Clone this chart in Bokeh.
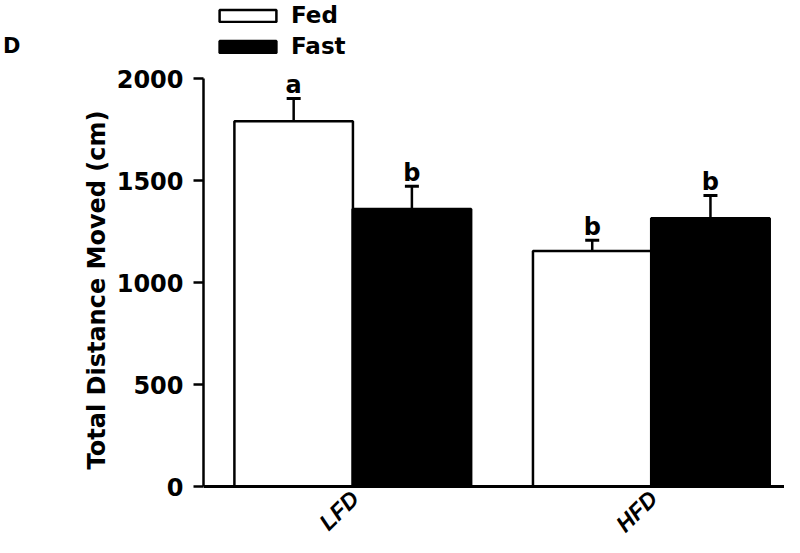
import math
from bokeh.plotting import figure
from bokeh.models import (ColumnDataSource, Range1d, FixedTicker, Whisker, TeeHead,
                          Legend, LegendItem, Span, LinearAxis)
from bokeh.core.properties import value
from bokeh.embed import file_html
from bokeh.resources import INLINE

# ---- data ----
categories = ["LFD", "HFD"]
group_pos = [1, 2]
series = ["Fed", "Fast"]
fed = [1790, 1155]
fed_err = [112, 52]
fast = [1360, 1315]
fast_err = [112, 112]
fed_letters = ["a", "b"]
fast_letters = ["b", "b"]
y_ticks = [0, 500, 1000, 1500, 2000]
y_title = "Total Distance Moved (cm)"
panel_tag = "D"

OFF = 0.198
BW = 0.397
FONT = "DejaVu Sans"

# layout (pixels): value 0 at y=486, 2000 at y=78 -> 0.204 px per unit
PX = 0.204
ZERO_Y = 486
H = 537
y_lo = -(H - ZERO_Y) / PX
y_hi = ZERO_Y / PX
title_pos = int(round((ZERO_Y - 246) / PX))   # puts the rotated axis title centred near y=291
tag_pos = int(round((ZERO_Y - 46) / PX))      # vertical centre of panel tag

p = figure(width=784, height=H, x_range=Range1d(0.5, 2.446), y_range=Range1d(y_lo, y_hi),
           output_backend="svg", toolbar_location=None, x_axis_location=None,
           min_border_left=203, min_border_right=0, min_border_top=0, min_border_bottom=0)
p.outline_line_color = None
p.xgrid.visible = False
p.ygrid.visible = False
p.background_fill_color = "white"
p.border_fill_color = "white"

fed_src = ColumnDataSource(dict(x=[g - OFF for g in group_pos], top=fed,
                                upper=[v + e for v, e in zip(fed, fed_err)],
                                letter=fed_letters))
fast_src = ColumnDataSource(dict(x=[g + OFF for g in group_pos], top=fast,
                                 upper=[v + e for v, e in zip(fast, fast_err)],
                                 letter=fast_letters))

for src in (fed_src, fast_src):
    w = Whisker(base="x", lower="top", upper="upper", source=src, dimension="height",
                line_width=2.5, line_color="black", lower_head=None,
                upper_head=TeeHead(size=14, line_width=3, line_color="black"))
    p.add_layout(w)

r_fed = p.vbar(x="x", top="top", width=BW, bottom=0, source=fed_src,
               fill_color="white", line_color="black", line_width=2.5)
r_fast = p.vbar(x="x", top="top", width=BW, bottom=0, source=fast_src,
                fill_color="black", line_color="black", line_width=2.5)

# x axis baseline at y = 0
p.add_layout(Span(location=0, dimension="width", line_color="black", line_width=3))

for src in (fed_src, fast_src):
    p.text(x="x", y="upper", text="letter", source=src, text_align="center",
           text_baseline="alphabetic", y_offset=-13, text_font=value(FONT),
           text_font_size="24px", text_font_style="bold", text_color="black")

# category labels, rotated 45 degrees below the baseline
p.text(x=group_pos, y=[0] * len(group_pos), text=categories, angle=math.pi / 4,
       text_align="right", text_baseline="middle", x_offset=2, y_offset=8,
       text_font=value("Liberation Sans"), text_font_style="bold italic",
       text_font_size="23px", text_color="black")

# main y axis
ya = p.yaxis[0]
ya.ticker = FixedTicker(ticks=y_ticks)
ya.bounds = (0, 2000)
ya.axis_line_width = 2.5
ya.major_tick_line_width = 2.5
ya.major_tick_out = 10
ya.major_tick_in = 0
ya.minor_tick_line_color = None
ya.major_label_standoff = 10
ya.major_label_text_font = FONT
ya.major_label_text_font_style = "bold"
ya.major_label_text_font_size = "24px"
ya.major_label_text_color = "black"

# axis title (as a bare axis so it can be centred where the reference has it)
ax_title = LinearAxis(ticker=FixedTicker(ticks=[title_pos]),
                      major_label_overrides={title_pos: y_title},
                      major_label_orientation=math.pi / 2,
                      axis_line_color=None, major_tick_line_color=None,
                      minor_tick_line_color=None, major_label_standoff=10,
                      major_label_text_font=FONT, major_label_text_font_style="bold",
                      major_label_text_font_size="24px", major_label_text_color="black")
p.add_layout(ax_title, "left")

# panel tag "D"
ax_tag = LinearAxis(ticker=FixedTicker(ticks=[tag_pos]),
                    major_label_overrides={tag_pos: panel_tag},
                    major_label_orientation="horizontal",
                    axis_line_color=None, major_tick_line_color=None,
                    minor_tick_line_color=None, major_label_standoff=40,
                    major_label_text_font=FONT, major_label_text_font_style="bold",
                    major_label_text_font_size="21px", major_label_text_color="black")
p.add_layout(ax_tag, "left")

legend = Legend(items=[LegendItem(label=series[0], renderers=[r_fed]),
                       LegendItem(label=series[1], renderers=[r_fast])],
                location=(9, 478), orientation="vertical",
                glyph_width=71, glyph_height=15, label_height=15, spacing=5,
                padding=0, margin=0, border_line_color=None, background_fill_alpha=0,
                label_text_font=FONT, label_text_font_style="bold", label_text_color="black",
                label_text_font_size="23px", label_standoff=8)
p.add_layout(legend, "center")

open("out.html", "w").write(file_html(p, INLINE))
